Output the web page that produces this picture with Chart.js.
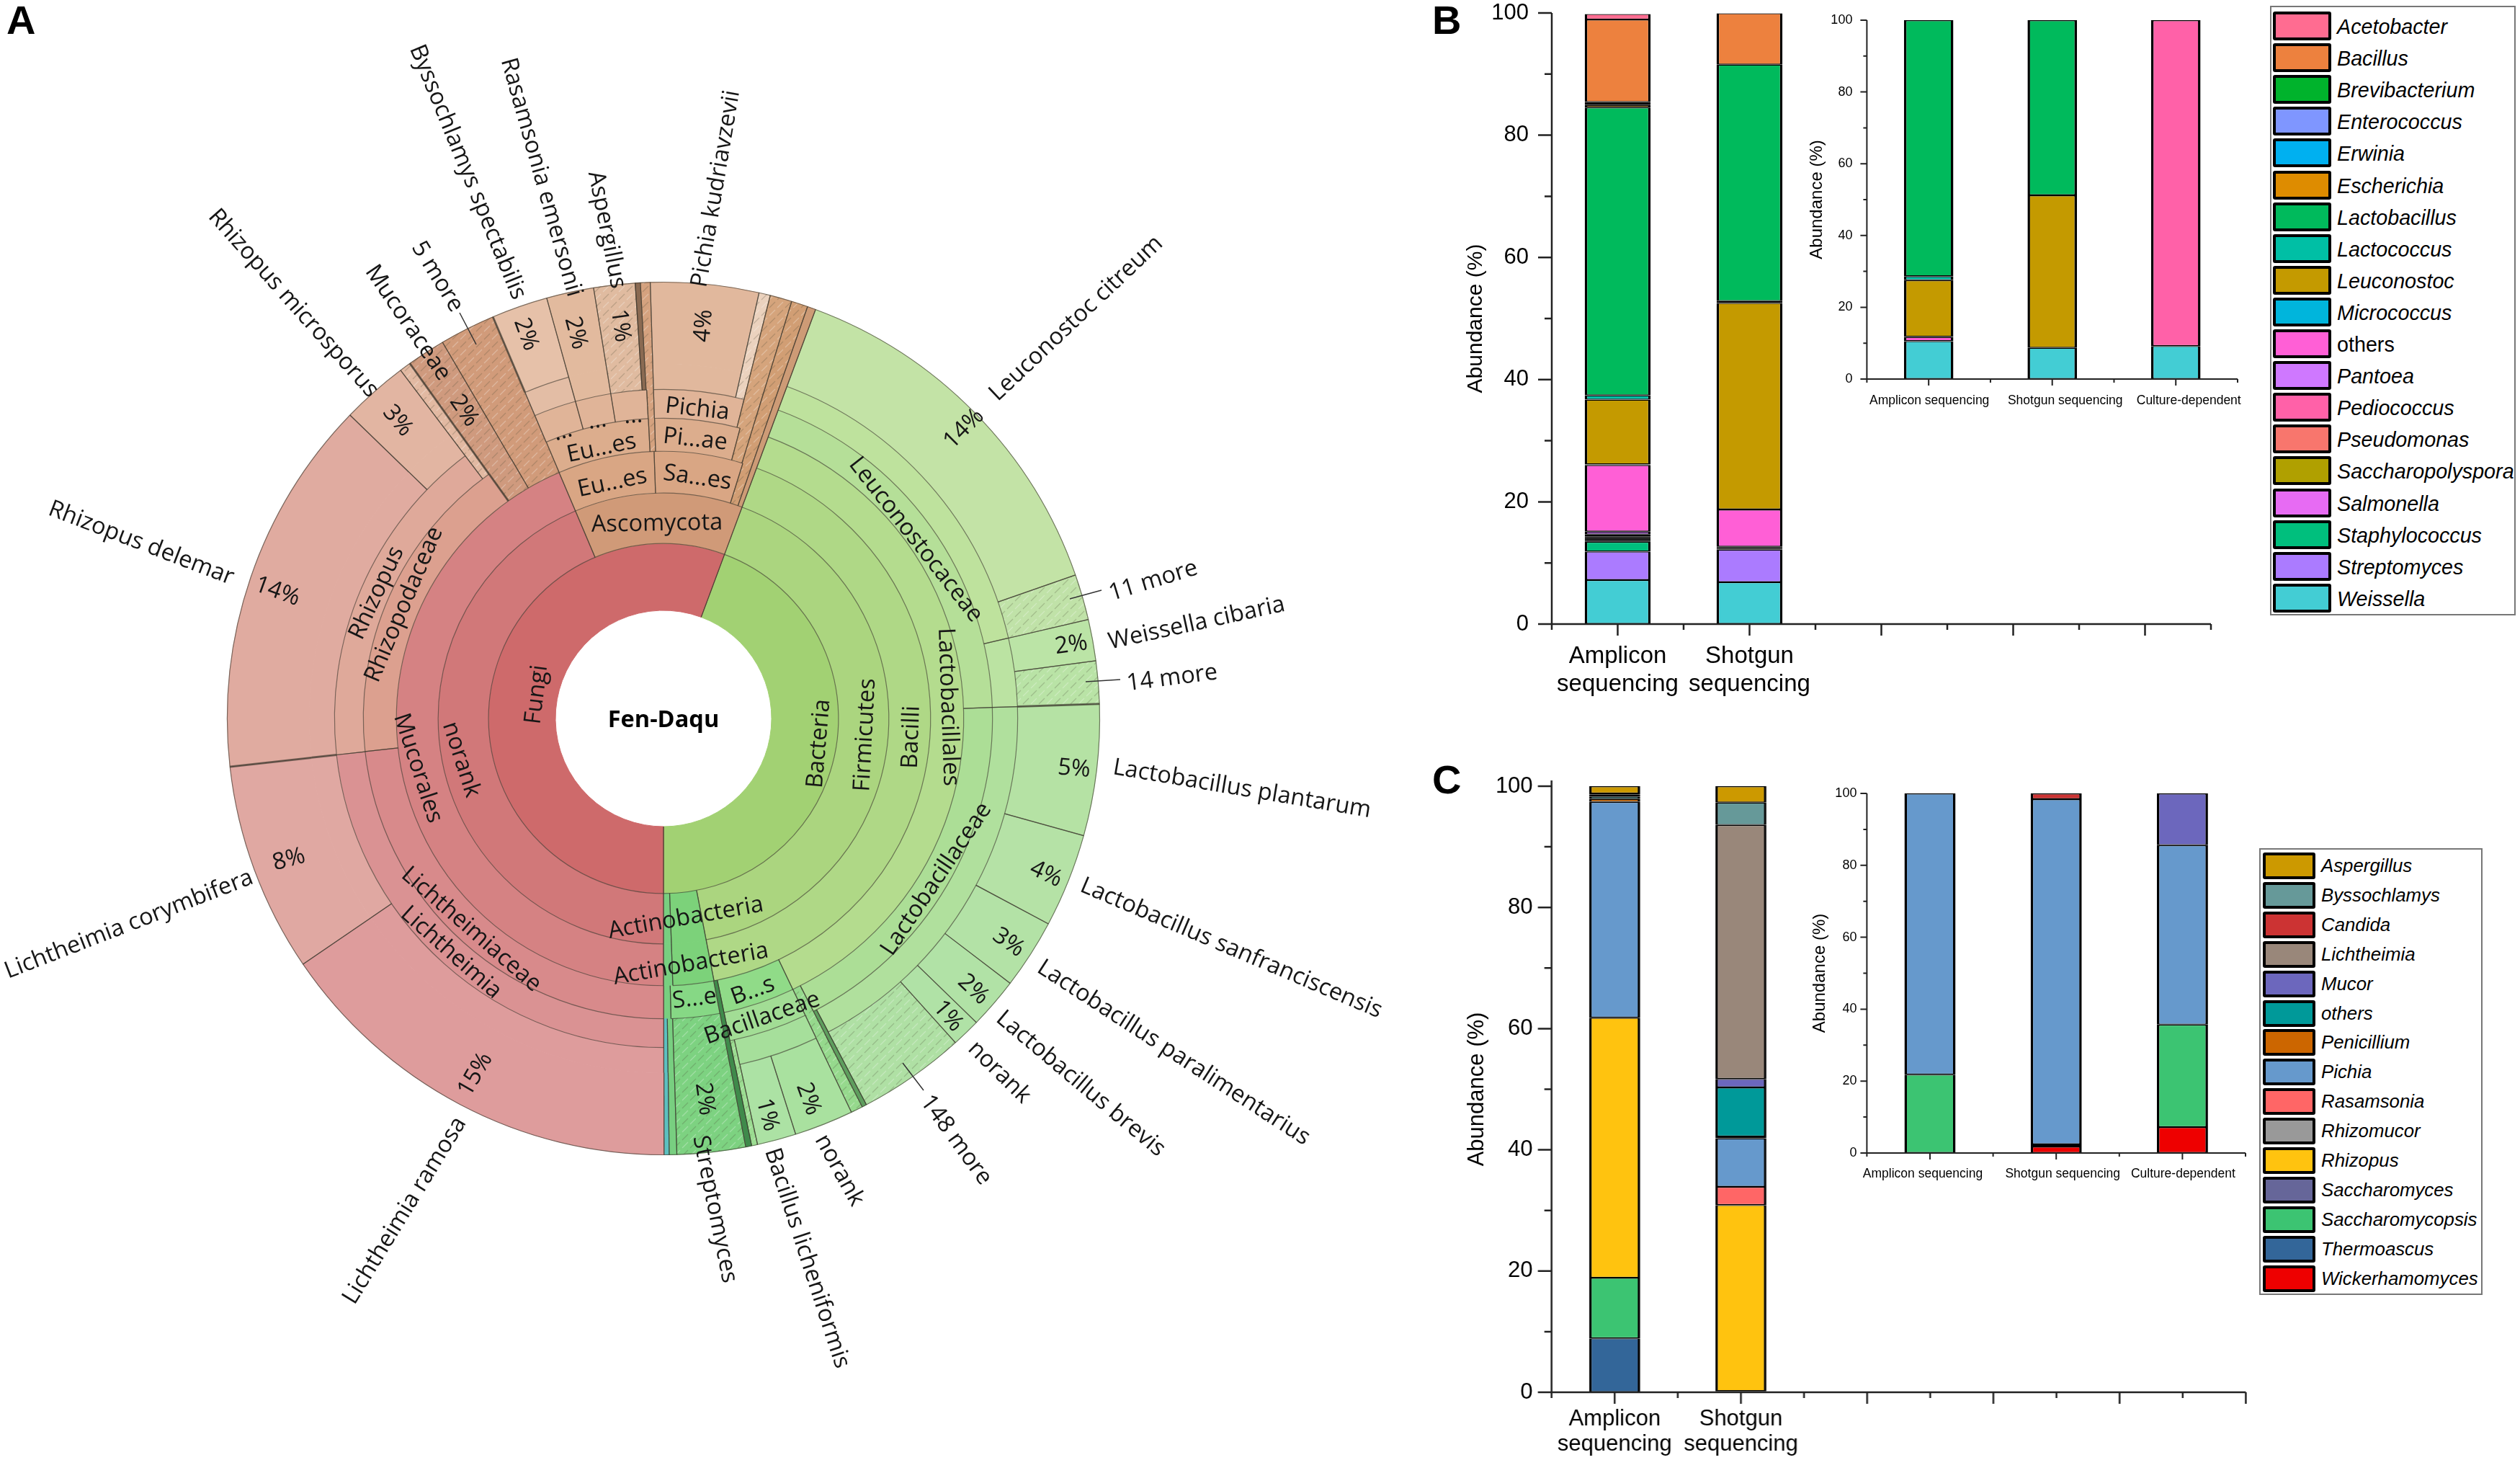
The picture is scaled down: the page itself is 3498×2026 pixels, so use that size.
<!DOCTYPE html>
<html lang="en">
<head>
<meta charset="UTF-8">
<title>Fen-Daqu community composition</title>
<script src="https://cdn.jsdelivr.net/npm/chart.js"></script>
<style>
  html, body { margin: 0; padding: 0; background: #fff; }
  #page { position: relative; width: 3498px; height: 2026px; overflow: hidden; background: #fff; }
  #page canvas { position: absolute; }
  .panel { position: absolute; font: bold 56px "Liberation Sans", Arial, sans-serif; color: #000; line-height: 56px; }
  .legend { position: absolute; box-sizing: border-box; background: #fff; border: 2px solid #777; font-family: "Liberation Sans", Arial, sans-serif; color: #000; }
  .legend .swatch { position: absolute; box-sizing: border-box; border: 4px solid #000; border-radius: 3px; }
  .legend .name { position: absolute; font-style: italic; white-space: nowrap; }
</style>
</head>
<body>
<div id="page">
  <div class="panel" style="left:9px;top:0px">A</div>
  <div class="panel" style="left:1988px;top:0px">B</div>
  <div class="panel" style="left:1988px;top:1054px">C</div>
</div>
<script>
// ---------- panel B / C data ----------
const mainLabels = [['Amplicon', 'sequencing'], ['Shotgun', 'sequencing'], '', '', '', ''];
const insetLabels = ['Amplicon sequencing', 'Shotgun sequencing', 'Culture-dependent'];
const minorTicks = [10, 30, 50, 70, 90];

const bacteriaGenera = ['Acetobacter', 'Bacillus', 'Brevibacterium', 'Enterococcus', 'Erwinia', 'Escherichia', 'Lactobacillus', 'Lactococcus', 'Leuconostoc', 'Micrococcus', 'others', 'Pantoea', 'Pediococcus', 'Pseudomonas', 'Saccharopolyspora', 'Salmonella', 'Staphylococcus', 'Streptomyces', 'Weissella'];
const bacteriaColors = ['#FF6C91', '#ED813E', '#00B32C', '#7F96FF', '#00B0F0', '#DE8C00', '#00BA5C', '#00BFA5', '#C49A00', '#00B5DC', '#FF5FD6', '#CF78FF', '#FF61A8', '#F8766D', '#B0A000', '#E76BF3', '#00BF7D', '#AB7BFF', '#43CDD4'];
const bMainAmplicon = [0.9, 13.5, 0.3, 0.1, 0.1, 0.4, 47.1, 0.7, 10.6, 0.1, 10.9, 0.47, 0.3, 0.3, 0.3, 0.3, 1.6, 4.66, 7.2];
const bMainShotgun = [0, 8.4, 0, 0, 0, 0, 38.7, 0.3, 33.8, 0, 6.1, 0, 0, 0, 0, 0.2, 0.25, 5.35, 6.85];
const bInsetAmplicon = [0, 0, 0, 0, 0, 0, 71.35, 1.1, 15.8, 0, 1.2, 0, 0, 0, 0, 0, 0, 0, 10.55];
const bInsetShotgun = [0, 0, 0, 0, 0, 0, 48.8, 0, 42.5, 0, 0, 0, 0, 0, 0, 0, 0, 0, 8.7];
const bInsetCulture = [0, 0, 0, 0, 0, 0, 0, 0, 0, 0, 0, 0, 90.8, 0, 0, 0, 0, 0, 9.2];

const fungiGenera = ['Aspergillus', 'Byssochlamys', 'Candida', 'Lichtheimia', 'Mucor', 'others', 'Penicillium', 'Pichia', 'Rasamsonia', 'Rhizomucor', 'Rhizopus', 'Saccharomyces', 'Saccharomycopsis', 'Thermoascus', 'Wickerhamomyces'];
const fungiColors = ['#CC9900', '#669999', '#CC3333', '#99877A', '#6C67BD', '#009999', '#CC6600', '#6699CC', '#FF6666', '#999999', '#FFC30F', '#666699', '#3CC472', '#336699', '#EE0000'];
const cMainAmplicon = [1.2, 0.2, 0, 0.3, 0, 0.4, 0.5, 35.6, 0, 0, 42.9, 0, 10, 8.9, 0];
const cMainShotgun = [2.7, 3.7, 0, 41.9, 1.4, 8.1, 0.3, 8, 3, 0, 30.7, 0, 0, 0.2, 0];
const cInsetAmplicon = [0, 0, 0, 0, 0, 0, 0, 78.2, 0, 0, 0, 0, 21.8, 0, 0];
const cInsetShotgun = [0, 0, 1.6, 0, 0, 0, 0, 96, 0, 0, 0, 0, 0.6, 0, 1.8];
const cInsetCulture = [0, 0, 0, 0, 14.4, 0, 0, 49.9, 0, 0, 0, 0, 28.5, 0, 7.2];

// ---------- panel A data, one pair of lists per ring, inner to outer, % of the circle ----------
const ring1Names = ['Bacteria', 'Fungi'];
const ring1Values = [44.33, 55.67];
const ring2Names = ['Firmicutes', 'Actinobacteria', 'bStrip', 'norank', 'Ascomycota'];
const ring2Values = [41.31, 2.47, 0.56, 43.61, 12.06];
const ring3Names = ['Bacilli', 'Actinobacteria', 'bStrip', 'Mucorales', 'Eurotiomycetes', 'Saccharomycetes', 'aHatch2', 'aSolid'];
const ring3Values = [41.31, 2.47, 0.56, 43.61, 5.83, 5.36, 0.56, 0.31];
const ring4Names = ['Lactobacillales', 'Bacillales', 'bDark', 'Streptomycetales', 'bStrip', 'Lichtheimiaceae', 'Rhizopodaceae', 'Mucoraceae', 'fiveMore', 'Eurotiales', 'aStrip', 'Pichiaceae', 'aHatch1', 'aHatch2', 'aSolid'];
const ring4Values = [37.24, 3.86, 0.22, 2.61, 0.39, 23.25, 16.89, 1.42, 2.06, 5.58, 0.33, 4.58, 0.64, 0.61, 0.31];
const ring5Names = ['Leuconostocaceae', 'Lactobacillaceae', 'bHatch', 'Bacillaceae', 'bDark', 'Streptomyces', 'bStrip', 'bTeal', 'Lichtheimia', 'Rhizopus', 'mStrip', 'Mucoraceae', 'fiveMore', 'dots1', 'dots2', 'dots3', 'aStrip', 'Pichia', 'aHatch1', 'aHatch2', 'aSolid'];
const ring5Values = [18.8, 18, 0.44, 3.86, 0.22, 2.53, 0.28, 0.19, 23.25, 16.47, 0.42, 1.42, 2.06, 2.08, 1.75, 1.75, 0.33, 4.42, 0.81, 0.61, 0.31];
const ring6Names = ['Leuconostoc', 'Weissella', 'Lactobacillus', 'bLine', 'bHatch', 'Bacillus', 'bHatch2', 'bDark', 'Streptomyces', 'bStrip', 'bTeal', 'L. ramosa', 'L. corymbifera', 'R. delemar', 'R. microsporus', 'mStrip', 'Mucoraceae', 'fiveMore', 'Byssochlamys', 'Rasamsonia', 'Aspergillus', 'aDark', 'aStrip', 'P. kudriavzevii', 'pStrip', 'aHatch1', 'aHatch2', 'aSolid'];
const ring6Values = [15.69, 3.11, 17.83, 0.17, 0.44, 3.64, 0.22, 0.22, 2.53, 0.28, 0.19, 15.5, 7.75, 14, 2.47, 0.42, 1.42, 2.06, 2.08, 1.75, 1.53, 0.19, 0.36, 4, 0.42, 0.81, 0.61, 0.31];
const ring7Names = ['L. citreum', 'elevenMore', 'W. cibaria', 'fourteenMore', 'L. plantarum', 'L. sanfranciscensis', 'L. paralimentarius', 'L. brevis', 'norank1', 'moreLacto', 'bLine', 'bHatch', 'norank2', 'B. licheniformis', 'bHatch2', 'bDark', 'Streptomyces', 'bStrip', 'bTeal', 'L. ramosa', 'L. corymbifera', 'R. delemar', 'R. microsporus', 'mStrip', 'Mucoraceae', 'fiveMore', 'B. spectabilis', 'Rasamsonia', 'Aspergillus', 'aDark', 'aStrip', 'P. kudriavzevii', 'pStrip', 'aHatch1', 'aHatch2', 'aSolid'];
const ring7Values = [14, 1.69, 1.53, 1.58, 4.86, 3.47, 2.58, 1.89, 1.06, 3.97, 0.17, 0.44, 2.19, 1.44, 0.22, 0.22, 2.53, 0.28, 0.19, 15.5, 7.75, 14, 2.47, 0.42, 1.42, 2.06, 2.08, 1.75, 1.53, 0.19, 0.36, 4, 0.42, 0.81, 0.61, 0.31];

// ---------- panel A styling ----------
const ringThickness = [93, 70, 58, 46, 40, 35, 114];
const arcFill = {
  Bacteria: '#A2D173', Fungi: '#CE6A6B',
  Firmicutes: '#ABD57F', Actinobacteria: '#7CD27A', bStrip: '#78CF80', norank: '#D17879', Ascomycota: '#D09A78',
  Bacilli: '#AFD886', Mucorales: '#D58283', Eurotiomycetes: '#D9A684', Saccharomycetes: '#D9A684', aHatch2: 'h#D19E74', aSolid: '#CD9B76',
  Lactobacillales: '#B4DC8E', Bacillales: '#90DB88', bDark: '#3F8A4B', Streptomycetales: '#86D885', Lichtheimiaceae: '#D88A8B', Rhizopodaceae: '#DCA08F', Mucoraceae: 'h#CF9A7E', fiveMore: 'h#D19B7A', Eurotiales: '#DCAD8D', aStrip: 'h#D5A27F', Pichiaceae: '#DCAD8D', aHatch1: 'h#D5A47C',
  Leuconostocaceae: '#B5DF98', Lactobacillaceae: '#ACDE96', bHatch: 'h#96D98D', Bacillaceae: '#A2DD95', Streptomyces: 'h#7DD281', bTeal: '#5CC0C0', Lichtheimia: '#DA9293', Rhizopus: '#DFA99A', mStrip: 'h#E2B9A2', dots1: '#E0B498', dots2: '#E0B498', dots3: '#E0B498', Pichia: '#E0B498',
  Leuconostoc: '#BEE29D', Weissella: '#BBE3A2', Lactobacillus: '#B0E09D', bLine: '#5E9E5E', Bacillus: '#A6DF9B', bHatch2: 'h#9CDD92', 'L. ramosa': '#DE9C9C', 'L. corymbifera': '#E0A8A2', 'R. delemar': '#E0ABA0', 'R. microsporus': '#E2B5A2', Byssochlamys: '#E3BDA5', Rasamsonia: '#E2BA9E', Aspergillus: 'h#E0BBA0', aDark: '#8A6A52', 'P. kudriavzevii': '#E1B89D', pStrip: 'h#EBD2BE',
  'L. citreum': '#C3E3A6', elevenMore: 'h#C0E2A8', 'W. cibaria': '#BBE4A6', fourteenMore: 'h#B9E3A6', 'L. plantarum': '#B5E2A4', 'L. sanfranciscensis': '#B5E2A6', 'L. paralimentarius': '#B3E2A6', 'L. brevis': '#B1E2A6', norank1: '#B0E2A6', moreLacto: 'h#AFE0A4', norank2: '#A9E19F', 'B. licheniformis': '#ACE2A4', 'B. spectabilis': '#E6C1A9'
};
const heavyEdges = ['L. plantarum', 'R. delemar', 'B. spectabilis', 'Mucoraceae'];

// label text of the sunburst: text, x, y, rotation in degrees
const sunburstText = [
  ['Byssochlamys spectabilis', 649, 239, 67.7], ['Rasamsonia emersonii', 751, 246, 74.2], ['Aspergillus', 842, 319, 78.7],
  ['Pichia kudriavzevii', 994, 262, -80.4], ['5 more', 607, 384, 58.5], ['Mucoraceae', 566, 448, 55.8],
  ['Rhizopus microsporus', 407, 421, 48.3], ['Rhizopus delemar', 196, 754, 21], ['Lichtheimia corymbifera', 179, 1283, -21.2],
  ['Lichtheimia ramosa', 562, 1680, -58.5], ['Streptomyces', 992, 1678, 78.5], ['Bacillus licheniformis', 1120, 1746, 71.9],
  ['norank', 1165, 1624, 61], ['148 more', 1327, 1582, 54], ['norank', 1387, 1488, 44.7], ['Lactobacillus brevis', 1500, 1504, 40],
  ['Lactobacillus paralimentarius', 1629, 1461, 33], ['Lactobacillus sanfranciscensis', 1709, 1316, 23], ['Lactobacillus plantarum', 1724, 1095, 9.6],
  ['14 more', 1627, 941, -7.3], ['Weissella cibaria', 1661, 865, -12.3], ['11 more', 1601, 806, -17], ['Leuconostoc citreum', 1494, 442, -43.4],
  ['14%', 1338, 595, -45], ['2%', 1487, 895, -8], ['5%', 1491, 1067, 5], ['4%', 1452, 1213, 25], ['3%', 1400, 1308, 35], ['2%', 1351, 1373, 43], ['1%', 1316, 1410, 50],
  ['2%', 1122, 1525, 70], ['1%', 1065, 1547, 75], ['2%', 978, 1525, 82], ['15%', 660, 1491, -60], ['8%', 401, 1193, -15], ['14%', 385, 821, 20],
  ['3%', 552, 584, 50], ['2%', 644, 570, 55], ['2%', 730, 464, 70], ['2%', 799, 462, 75], ['1%', 861, 452, 82], ['4%', 977, 452, -85],
  ['Fungi', 745, 964, -83], ['norank', 640, 1054, 72], ['Mucorales', 580, 1066, 72], ['Rhizopodaceae', 561, 839, -67], ['Rhizopus', 523, 823, -65],
  ['Lichtheimiaceae', 654, 1290, 41], ['Lichtheimia', 626, 1322, 41.7], ['Actinobacteria', 952, 1274, -10], ['Actinobacteria', 959, 1338, -10],
  ['S...e', 964, 1386, -7], ['B...s', 1045, 1375, -20], ['Bacillaceae', 1058, 1413, -19], ['Bacteria', 1137, 1032, -85], ['Firmicutes', 1201, 1020, -87], ['Bacilli', 1265, 1023, -88],
  ['Lactobacillales', 1316, 981, 88], ['Leuconostocaceae', 1271, 749, 52], ['Lactobacillaceae', 1300, 1220, -56],
  ['Ascomycota', 912, 727, -1], ['Eu...es', 850, 670, -12], ['Sa...es', 968, 663, 8], ['Eu...es', 835, 622, -12], ['Pi...ae', 965, 610, 6], ['Pichia', 968, 568, 6],
  ['...', 781, 599, -16], ['...', 829, 584, -8], ['...', 879, 577, -4]
];
const sunburstLeaders = [[638, 434, 661, 478], [1253, 1475, 1282, 1513], [1507, 946, 1555, 943], [1485, 831, 1529, 819]];

// ---------- helpers ----------
const page = document.getElementById('page');

function addCanvas(left, top, width, height) {
  const c = document.createElement('canvas');
  c.width = width; c.height = height;
  c.style.left = left + 'px'; c.style.top = top + 'px';
  c.style.width = width + 'px'; c.style.height = height + 'px';
  page.appendChild(c);
  return c.getContext('2d');
}

const hatchCache = {};
function hatch(ctx, base) {
  if (hatchCache[base]) return hatchCache[base];
  const tile = document.createElement('canvas');
  tile.width = tile.height = 22;
  const t = tile.getContext('2d');
  t.fillStyle = base;
  t.fillRect(0, 0, 22, 22);
  t.lineWidth = 1.2;
  const dashes = [[1, 9, 9, 1], [12, 20, 20, 12], [12, 9, 20, 1], [1, 20, 9, 12]];
  dashes.forEach((d, i) => {
    t.strokeStyle = i < 2 ? 'rgba(255,255,255,0.28)' : 'rgba(70,70,50,0.24)';
    t.beginPath(); t.moveTo(d[0], d[1]); t.lineTo(d[2], d[3]); t.stroke();
  });
  hatchCache[base] = ctx.createPattern(tile, 'repeat');
  return hatchCache[base];
}

// axis lines and ticks, major and minor have different lengths
const axisFrame = {
  id: 'axisFrame',
  afterDatasetsDraw(chart, args, o) {
    const { ctx, scales: { x, y } } = chart;
    const step = x.width / x.ticks.length / 2;
    const y0 = y.getPixelForValue(0);
    const right = x.left + o.halfSteps * step;
    ctx.save();
    ctx.strokeStyle = '#222';
    ctx.lineWidth = o.lineWidth;
    ctx.beginPath();
    ctx.moveTo(x.left, y.getPixelForValue(100) - o.over);
    ctx.lineTo(x.left, y0);
    ctx.moveTo(x.left - o.major[1], y0);
    ctx.lineTo(right, y0);
    y.ticks.forEach(t => {
      const p = y.getPixelForValue(t.value);
      ctx.moveTo(x.left - o.major[1], p); ctx.lineTo(x.left, p);
    });
    minorTicks.forEach(v => {
      const p = y.getPixelForValue(v);
      ctx.moveTo(x.left - o.minor[1], p); ctx.lineTo(x.left, p);
    });
    for (let i = 0; i <= o.halfSteps; i++) {
      const len = i % 2 ? o.major[0] : o.minor[0];
      ctx.moveTo(x.left + i * step, y0); ctx.lineTo(x.left + i * step, y0 + len);
    }
    ctx.stroke();
    // inset labels sit off-centre in the figure, so they are placed here
    if (o.labelDx) {
      ctx.fillStyle = '#000';
      ctx.textAlign = 'center';
      ctx.textBaseline = 'alphabetic';
      ctx.font = o.labelFont;
      chart.data.labels.forEach((label, i) => {
        ctx.fillText(label, x.getPixelForTick(i) + o.labelDx[i], y0 + o.labelDrop);
      });
    }
    ctx.restore();
  }
};

function stackedBars(o) {
  const padTop = 60;
  const padRight = 40;
  const titleLine = o.titleSize * 1.2;
  const yWidth = o.left - o.titleX + titleLine / 2;
  const ctx = addCanvas(o.left - yWidth, o.top - padTop, o.right - o.left + yWidth + padRight, o.bottom - o.top + padTop + o.xHeight);
  // bottom of the stack is the last name of the legend
  const datasets = o.genera.map((name, i) => ({
    label: name,
    data: o.series.map(s => s[i]),
    backgroundColor: o.colors[i],
    borderColor: '#000',
    borderWidth: { left: 3.5, right: 3.5, top: 1.4, bottom: 1.4 },
    borderSkipped: false,
    barPercentage: o.barShare,
    categoryPercentage: 1
  })).reverse();
  return new Chart(ctx, {
    type: 'bar',
    data: { labels: o.labels, datasets },
    plugins: [axisFrame],
    options: {
      responsive: false,
      animation: false,
      devicePixelRatio: 1,
      layout: { padding: { top: padTop, right: padRight } },
      plugins: {
        legend: { display: false },
        tooltip: { enabled: false },
        axisFrame: {
          halfSteps: o.halfSteps, major: o.major, minor: o.minor, lineWidth: o.lineWidth, over: o.over || 0,
          labelDx: o.labelDx, labelDrop: o.labelDrop, labelFont: `${o.xSize}px "Liberation Sans"`
        }
      },
      scales: {
        x: {
          stacked: true,
          afterFit: s => { s.height = o.xHeight; },
          grid: { display: false, drawTicks: false },
          border: { display: false },
          ticks: {
            display: !o.labelDx, autoSkip: false, maxRotation: 0, padding: o.xPad, color: '#000',
            font: { family: 'Liberation Sans', size: o.xSize, lineHeight: 1.16 }
          }
        },
        y: {
          stacked: true, min: 0, max: 100,
          afterFit: s => { s.width = yWidth; },
          grid: { display: false, drawTicks: false },
          border: { display: false },
          ticks: { stepSize: 20, padding: o.yPad, color: '#000', font: { family: 'Liberation Sans', size: o.ySize } },
          title: { display: true, text: 'Abundance (%)', color: '#000', padding: 0, font: { family: 'Liberation Sans', size: o.titleSize, lineHeight: 1.2 } }
        }
      }
    }
  });
}

function htmlLegend(o) {
  const box = document.createElement('div');
  box.className = 'legend';
  box.style.cssText = `left:${o.left}px;top:${o.top}px;width:${o.width}px;height:${o.height}px`;
  o.names.forEach((name, i) => {
    const y = o.rowTop - o.top + i * o.rowStep;
    const sw = document.createElement('div');
    sw.className = 'swatch';
    sw.style.cssText = `left:${o.swLeft - o.left - 2}px;top:${y - 2}px;width:${o.swWidth}px;height:${o.swHeight}px;background:${o.colors[i]}`;
    const tx = document.createElement('div');
    tx.className = 'name';
    tx.textContent = name;
    tx.style.cssText = `left:${o.textLeft - o.left - 2}px;top:${y - 2 + (o.textDrop || 0)}px;line-height:${o.swHeight}px;font-size:${o.fontSize}px` + (name === 'others' && !o.othersItalic ? ';font-style:normal' : '');
    box.appendChild(sw); box.appendChild(tx);
  });
  page.appendChild(box);
}

// ---------- panel A ----------
const rings = [
  [ring7Names, ring7Values], [ring6Names, ring6Values], [ring5Names, ring5Values], [ring4Names, ring4Values],
  [ring3Names, ring3Values], [ring2Names, ring2Values], [ring1Names, ring1Values]
];

const sunburstEdges = {
  id: 'sunburstEdges',
  afterDatasetsDraw(chart) {
    const { ctx } = chart;
    ctx.save();
    rings.forEach((ring, r) => {
      const names = ring[0];
      const outerNames = r > 0 ? rings[r - 1][0] : [];
      chart.getDatasetMeta(r).data.forEach((arc, i) => {
        const a = arc.getProps(['x', 'y', 'startAngle', 'endAngle', 'innerRadius', 'outerRadius']);
        const radial = (ang, w) => {
          ctx.lineWidth = w;
          ctx.beginPath();
          ctx.moveTo(a.x + Math.cos(ang) * a.innerRadius, a.y + Math.sin(ang) * a.innerRadius);
          ctx.lineTo(a.x + Math.cos(ang) * a.outerRadius, a.y + Math.sin(ang) * a.outerRadius);
          ctx.stroke();
        };
        ctx.strokeStyle = 'rgba(60,55,45,0.62)';
        radial(a.startAngle, heavyEdges.includes(names[i]) ? 3 : 1.2);
        radial(a.endAngle, 1.2);
        if (!outerNames.includes(names[i])) {
          ctx.lineWidth = 1.2;
          ctx.beginPath();
          ctx.arc(a.x, a.y, a.outerRadius, a.startAngle, a.endAngle);
          ctx.stroke();
        }
      });
    });
    ctx.restore();
  },
  afterDraw(chart) {
    const { ctx } = chart;
    ctx.save();
    ctx.strokeStyle = '#333';
    ctx.lineWidth = 1.5;
    sunburstLeaders.forEach(l => {
      ctx.beginPath(); ctx.moveTo(l[0], l[1]); ctx.lineTo(l[2], l[3]); ctx.stroke();
    });
    ctx.fillStyle = '#161616';
    ctx.textAlign = 'center';
    ctx.textBaseline = 'middle';
    ctx.font = '32.5px "Open Sans"';
    sunburstText.forEach(t => {
      ctx.save();
      ctx.translate(t[1], t[2]);
      ctx.rotate(t[3] * Math.PI / 180);
      ctx.fillText(t[0], 0, 0);
      ctx.restore();
    });
    ctx.font = 'bold 32.5px "Open Sans"';
    ctx.fillStyle = '#000';
    ctx.fillText('Fen-Daqu', 921, 1000);
    ctx.restore();
  }
};

const aCtx = addCanvas(0, 0, 1960, 2026);
const fillOf = name => {
  const f = arcFill[name];
  return f[0] === 'h' ? hatch(aCtx, f.slice(1)) : f;
};
new Chart(aCtx, {
  type: 'doughnut',
  data: {
    labels: ring7Names,
    datasets: rings.map((ring, i) => {
      const fills = ring[0].map(fillOf);
      return { data: ring[1], backgroundColor: fills, borderColor: fills, borderWidth: 1, weight: ringThickness[6 - i] };
    })
  },
  plugins: [sunburstEdges],
  options: {
    responsive: false,
    animation: false,
    devicePixelRatio: 1,
    rotation: 20.4,
    cutout: 150,
    layout: { padding: { left: 315, right: 433, top: 391, bottom: 423 } },
    plugins: { legend: { display: false }, tooltip: { enabled: false } }
  }
});

// ---------- panels B and C ----------
stackedBars({
  left: 2154, right: 3069, top: 17.5, bottom: 866, titleX: 2049, labels: mainLabels.slice(0, 5), genera: bacteriaGenera, colors: bacteriaColors,
  series: [bMainAmplicon, bMainShotgun, [], [], []], barShare: 0.5, halfSteps: 10, major: [16, 19], minor: [8, 10], lineWidth: 2.5,
  xHeight: 110, xPad: 26, xSize: 33, ySize: 31, yPad: 32, titleSize: 30
});
stackedBars({
  left: 2591, right: 3106, top: 28, bottom: 526, titleX: 2522, labels: insetLabels, labelDx: [1, 18, 18], labelDrop: 35, genera: bacteriaGenera, colors: bacteriaColors,
  series: [bInsetAmplicon, bInsetShotgun, bInsetCulture], barShare: 0.4, halfSteps: 6, major: [9, 9], minor: [5, 5], lineWidth: 2,
  xHeight: 50, xSize: 17.5, ySize: 18, yPad: 20, titleSize: 24
});
stackedBars({
  left: 2154, right: 3205, top: 1091, bottom: 1932, titleX: 2051, labels: mainLabels, genera: fungiGenera, colors: fungiColors,
  series: [cMainAmplicon, cMainShotgun, [], [], [], []], barShare: 0.405, halfSteps: 11, major: [16, 19], minor: [8, 10], lineWidth: 2.5, over: 8,
  xHeight: 94, xPad: 19, xSize: 31, ySize: 31, yPad: 26, titleSize: 31
});
stackedBars({
  left: 2591, right: 3117, top: 1101, bottom: 1600, titleX: 2526, labels: insetLabels, labelDx: [-10, 9, 1], labelDrop: 34, genera: fungiGenera, colors: fungiColors,
  series: [cInsetAmplicon, cInsetShotgun, cInsetCulture], barShare: 0.405, halfSteps: 6, major: [9, 9], minor: [5, 5], lineWidth: 2,
  xHeight: 50, xSize: 17.5, ySize: 18, yPad: 14, titleSize: 24
});

htmlLegend({
  left: 3151, top: 8, width: 341, height: 846, names: bacteriaGenera, colors: bacteriaColors,
  rowTop: 16, rowStep: 44.1, swLeft: 3155, swWidth: 81, swHeight: 40, textLeft: 3244, fontSize: 28.7, textDrop: 1
});
htmlLegend({
  left: 3136, top: 1177, width: 310, height: 620, names: fungiGenera, colors: fungiColors, othersItalic: true,
  rowTop: 1183, rowStep: 40.9, swLeft: 3141, swWidth: 73, swHeight: 37, textLeft: 3222, fontSize: 25.8
});
</script>
</body>
</html>
